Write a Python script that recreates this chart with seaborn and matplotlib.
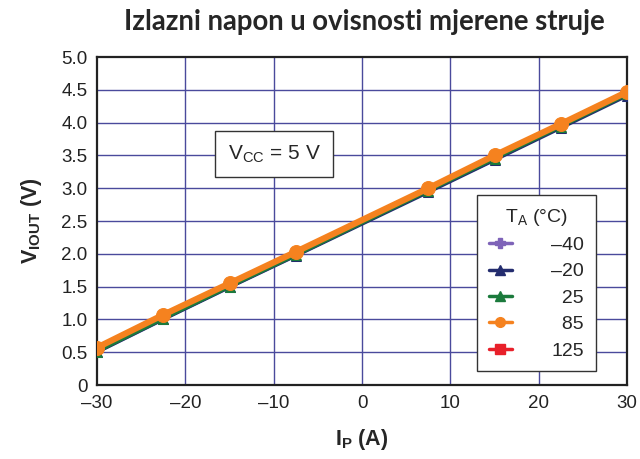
import numpy as np
import pandas as pd
import matplotlib
matplotlib.use('Agg')
import matplotlib.pyplot as plt
import seaborn as sns

# Data
current = [-30, -22.5, -15, -7.5, 7.5, 15, 22.5, 30]
v_m40 = [0.50, 1.00, 1.49, 1.97, 2.95, 3.43, 3.93, 4.42]
v_m20 = [0.50, 1.00, 1.49, 1.97, 2.94, 3.43, 3.92, 4.41]
v_25 = [0.51, 1.01, 1.50, 1.98, 2.96, 3.45, 3.94, 4.43]
v_85 = [0.57, 1.07, 1.55, 2.03, 3.00, 3.50, 3.98, 4.47]
v_125 = [0.57, 1.07, 1.55, 2.03, 3.00, 3.50, 3.98, 4.47]

temps = ['\u201340', '\u201320', '\u200725', '\u200785', '125']
series = [v_m40, v_m20, v_25, v_85, v_125]
colors = ['#7e63b8', '#232c6e', '#1b7a3c', '#f5821f', '#e8202a']
markers = ['P', '^', '^', 'o', 's']
sizes = [6, 7, 7, 10, 6]
widths = [2, 2.5, 2.5, 4.5, 2]
zorders = [3, 4, 5, 7, 2]

sns.set_style('white')
plt.rcParams['font.family'] = ['Liberation Sans', 'DejaVu Sans']
plt.rcParams['mathtext.fontset'] = 'custom'
plt.rcParams['mathtext.rm'] = 'Liberation Sans'
plt.rcParams['mathtext.bf'] = 'Liberation Sans:bold'

fig = plt.figure(figsize=(6.4, 4.59), dpi=100)
ax = fig.add_axes([0.1516, 0.1612, 0.8284, 0.7146])

grid_col = '#4a4a9c'
for x in [-20, -10, 0, 10, 20]:
    ax.axvline(x, color=grid_col, lw=1, zorder=1)
for y in np.arange(0.5, 5.0, 0.5):
    ax.axhline(y, color=grid_col, lw=1, zorder=1)

handles = []
for lab, vals, c, m, s, w, z in zip(temps, series, colors, markers, sizes, widths, zorders):
    df = pd.DataFrame({'I': current, 'V': vals})
    sns.lineplot(data=df, x='I', y='V', ax=ax, color=c, lw=w, marker=m,
                 markersize=s, markeredgecolor=c, zorder=z, legend=False)
    handles.append(plt.Line2D([], [], color=c, lw=2.5, marker=m, markersize=7,
                              markeredgecolor=c, label=lab))

ax.set_xlim(-30, 30)
ax.set_ylim(0, 5)
ax.set_xticks([-30, -20, -10, 0, 10, 20, 30])
ax.set_xticklabels(['\u201330', '\u201320', '\u201310', '0', '10', '20', '30'])
ax.set_yticks(np.arange(0, 5.01, 0.5))
ax.set_yticklabels(['0'] + ['%.1f' % v for v in np.arange(0.5, 5.01, 0.5)])
ax.tick_params(length=0, labelsize=13.5, pad=7, colors='#222222')
for sp in ax.spines.values():
    sp.set_color('#222222')
    sp.set_linewidth(1.6)

ax.set_xlabel(r'$\mathbf{I_P}$ (A)', fontsize=15.5, fontweight='bold', labelpad=11)
ax.set_ylabel(r'$\mathbf{V_{IOUT}}$ (V)', fontsize=15.5, fontweight='bold', labelpad=12)

ax.text(0.334, 0.704, r'V$_{\rm CC}$ = 5 V', transform=ax.transAxes, fontsize=15,
        ha='center', va='center', zorder=10,
        bbox=dict(boxstyle='square,pad=0.6', fc='white', ec='#333333', lw=1))

leg = ax.legend(handles=handles, title=r'T$_{\rm A}$ (°C)', loc='upper left',
                bbox_to_anchor=(0.717, 0.579), borderaxespad=0, fontsize=14,
                title_fontsize=14, frameon=True, fancybox=False,
                edgecolor='#333333', framealpha=1, handlelength=1.2,
                labelspacing=0.45, borderpad=0.6, handletextpad=2.0)
leg.get_frame().set_linewidth(1)
leg.set_zorder(10)

fig.text(0.570, 0.952, 'Izlazni napon u ovisnosti mjerene struje', ha='center',
         va='center', fontsize=19.8, fontweight='bold', family=['Lato', 'DejaVu Sans'])

fig.savefig('out.png', dpi=100)
